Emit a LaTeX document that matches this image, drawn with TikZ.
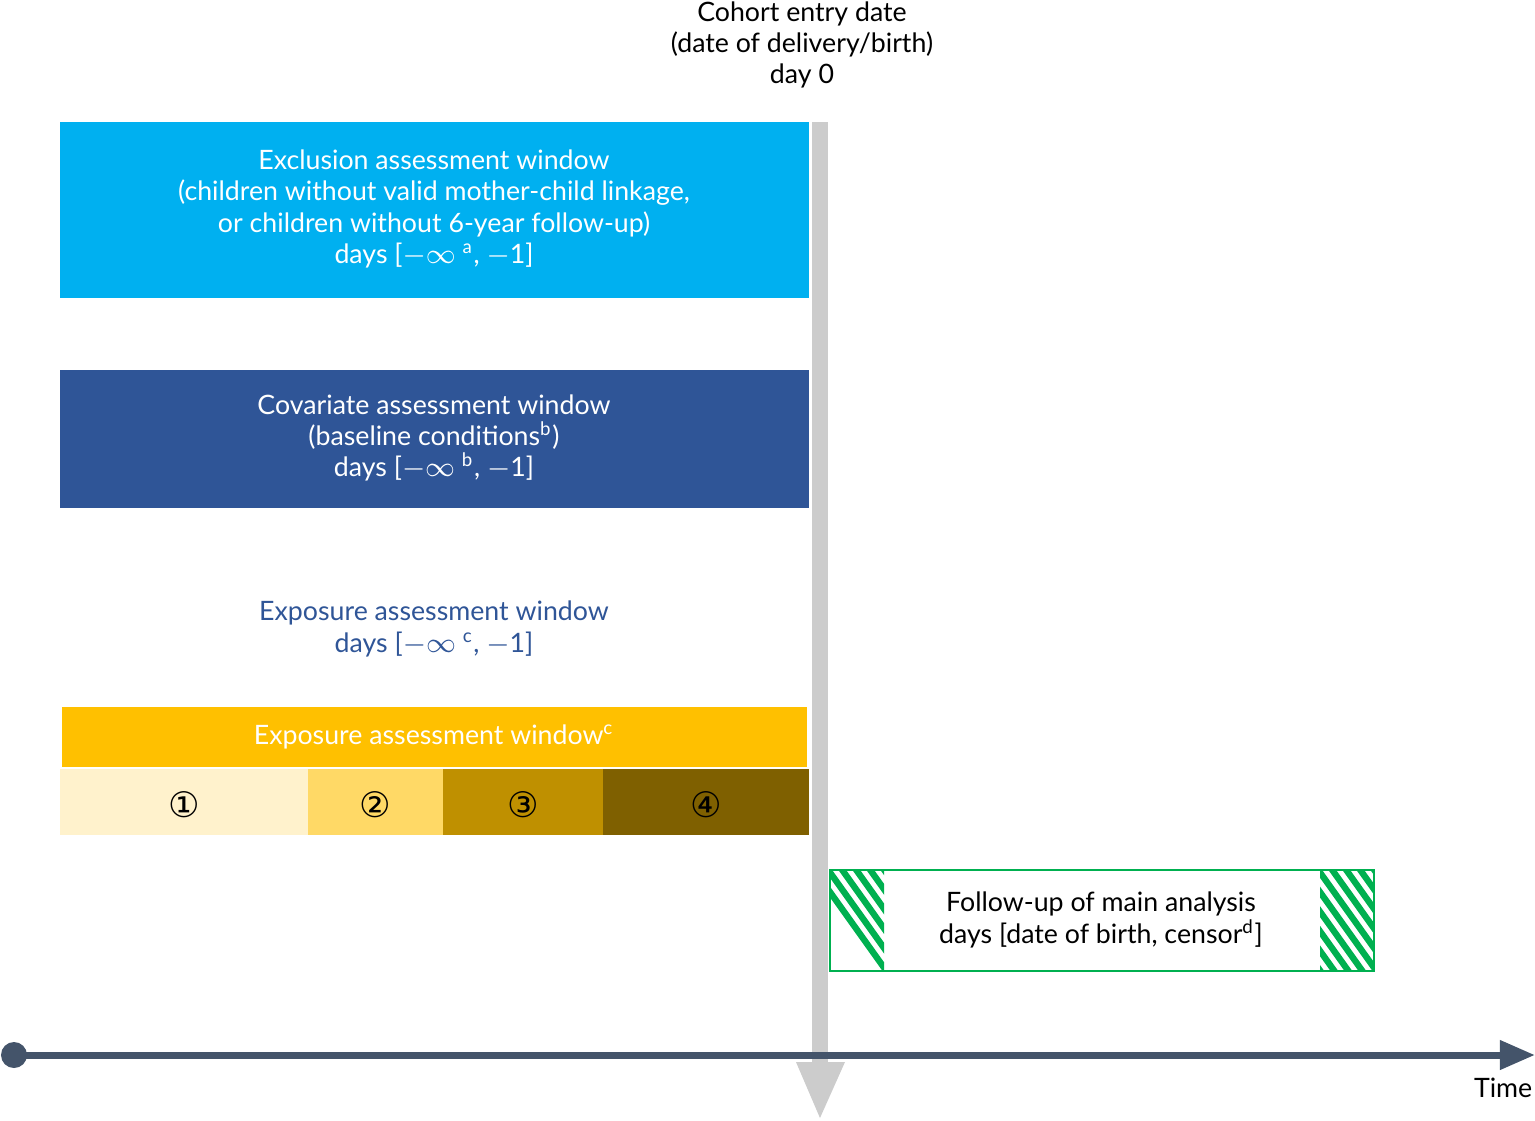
\documentclass[tikz,border=0pt]{standalone}
\usepackage{fontspec}
\setmainfont{Lato}
\newfontfamily\symfont{DejaVu Sans}
\definecolor{exclblue}{RGB}{0,176,240}
\definecolor{covblue}{RGB}{47,85,151}
\definecolor{expyellow}{RGB}{255,192,0}
\definecolor{segA}{RGB}{255,242,204}
\definecolor{segB}{RGB}{255,217,102}
\definecolor{segC}{RGB}{191,144,0}
\definecolor{segD}{RGB}{127,96,0}
\definecolor{fugreen}{RGB}{0,176,80}
\definecolor{axisgray}{RGB}{68,84,106}
\definecolor{bargray}{RGB}{204,204,204}
\usetikzlibrary{arrows.meta}

\begin{document}
\begin{tikzpicture}[x=0.01cm,y=-0.01cm,
    txt/.style={align=center, font=\fontsize{7.6}{8.9}\selectfont, inner sep=0pt},
    box/.style={txt, anchor=north west, text=white, inner sep=0pt},
  ]
    \useasboundingbox (0,0) rectangle (1535,1120);
    % cohort entry bar
    \fill[bargray] (812,122) rectangle (828,1070);
    \fill[bargray] (796,1062) -- (845,1062) -- (820,1118) -- cycle;
    \node[txt] (entry) at (802,45) {Cohort entry date\\(date of delivery/birth)\\day 0};
    % windows
    \fill[exclblue] (60,122) rectangle (809,298);
    \node[txt, text=white] (excl) at (434,209) {Exclusion assessment window\\(children without valid mother-child linkage,\\or children without 6-year follow-up)\\days [$-\infty$ \textsuperscript{a}, $-$1]};
    \fill[covblue] (60,370) rectangle (809,508);
    \node[txt, text=white] (cov) at (434,438) {Covariate assessment window\\(baseline conditions\textsuperscript{b})\\days [$-\infty$ \textsuperscript{b}, $-$1]};
    \node[txt, text=covblue] (exp) at (434,629) {Exposure assessment window\\days [$-\infty$ \textsuperscript{c}, $-$1]};
    \fill[expyellow] (62,707) rectangle (807,767);
    \node[txt, text=white] (expbar) at (434,737) {Exposure assessment window\textsuperscript{c}};
    \foreach \xa/\xb/\col/\num [count=\i] in {60/308/segA/①, 308/443/segB/②, 443/603/segC/③, 603/809/segD/④} {
        \fill[\col] (\xa,769) rectangle (\xb,835);
        \node[font=\symfont\fontsize{10}{10}\selectfont, inner sep=0pt] (seg\i) at ({(\xa+\xb)/2},805) {\num};
    }
    % follow-up
    \begin{scope}
      \clip (830,870) rectangle (884,971) (1320,870) rectangle (1374,971);
      \foreach \s in {0,14,...,700}
        \draw[fugreen, line width=1.8pt] ({800+\s},850) -- ({900+\s},990);
    \end{scope}
    \draw[fugreen, line width=0.6pt] (830,870) rectangle (1374,971);
    \node[txt] (fu) at (1101,920) {Follow-up of main analysis\\days [date of birth, censor\textsuperscript{d}]};
    % time axis
    \coordinate (t0) at (14,1055);
    \coordinate (t1) at (1535,1055);
    \draw[axisgray, line width=2pt, -{Triangle[length=10pt,width=8pt]}] (t0) -- (t1);
    \fill[axisgray] (t0) circle (13);
    \node[txt, anchor=north east] (time) at (1533,1077) {Time};
\end{tikzpicture}
\end{document}
